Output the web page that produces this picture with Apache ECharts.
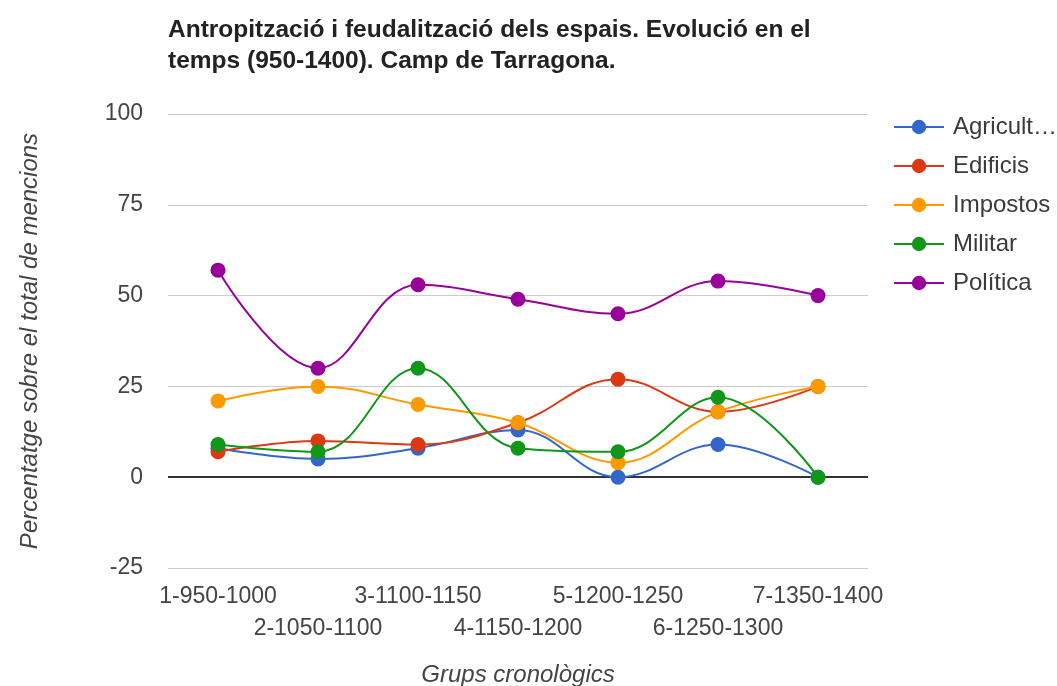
<!DOCTYPE html>
<html><head><meta charset="utf-8">
<script src="https://cdn.jsdelivr.net/npm/echarts@6/dist/echarts.min.js"></script>
<style>html,body{margin:0;padding:0;background:#fff}#c{width:1057px;height:686px}</style>
</head><body><div id="c"></div>
<script>
const categories = ['1-950-1000','2-1050-1100','3-1100-1150','4-1150-1200','5-1200-1250','6-1250-1300','7-1350-1400'];
const agricultura = [8, 5, 8, 13, 0, 9, 0];
const edificis = [7, 10, 9, 15, 27, 18, 25];
const impostos = [21, 25, 20, 15, 4, 18, 25];
const militar = [9, 7, 30, 8, 7, 22, 0];
const politica = [57, 30, 53, 49, 45, 54, 50];
const seriesNames = ['Agricultura','Edificis','Impostos','Militar','Política'];
const colors = ['#3366cc','#dc3912','#ff9900','#109618','#990099'];
const yTicks = {min: -25, max: 100, interval: 25};

const font = 'Liberation Sans, Arial, sans-serif';
const dataSets = [agricultura, edificis, impostos, militar, politica];
const series = dataSets.map((d, i) => ({
  name: seriesNames[i], type: 'line', data: d, smooth: 0.4,
  symbol: 'circle', symbolSize: 15,
  lineStyle: {width: 2, color: colors[i]},
  itemStyle: {color: colors[i]},
  emphasis: {disabled: true},
  markLine: i === 0 ? {silent: true, symbol: 'none', label: {show: false},
    lineStyle: {color: '#333', width: 2, type: 'solid'}, data: [{yAxis: 0}], z: 1} : undefined
}));

const chart = echarts.init(document.getElementById('c'), null, {renderer: 'canvas'});
chart.setOption({
  animation: false,
  color: colors,
  textStyle: {fontFamily: font},
  title: {
    text: 'Antropització i feudalització dels espais. Evolució en el\ntemps (950-1400). Camp de Tarragona.',
    left: 163, top: 10,
    textStyle: {fontFamily: font, fontSize: 24.5, fontWeight: 'bold', color: '#222', lineHeight: 31}
  },
  legend: {
    orient: 'vertical', left: 888, top: 110,
    itemWidth: 50, itemHeight: 18, itemGap: 15,
    textStyle: {fontFamily: font, fontSize: 24, color: '#3a3a3a', lineHeight: 24, width: 110,
      overflow: 'truncate', ellipsis: '…', padding: [0, 0, 0, 4]},
    data: seriesNames
  },
  grid: {left: 168, right: 189, top: 114, bottom: 118, outerBoundsMode: 'none'},
  xAxis: {
    type: 'category', data: categories, boundaryGap: true,
    axisLine: {show: false}, axisTick: {show: false},
    axisLabel: {interval: 0, fontFamily: font, fontSize: 23, color: '#444', lineHeight: 32, margin: 13,
      formatter: (v, idx) => idx % 2 ? '\n' + v : v},
    name: 'Grups cronològics', nameLocation: 'middle', nameGap: 95,
    nameTextStyle: {fontFamily: font, fontSize: 24, fontStyle: 'italic', color: '#444'}
  },
  yAxis: {
    type: 'value', min: yTicks.min, max: yTicks.max, interval: yTicks.interval,
    axisLine: {show: false}, axisTick: {show: false},
    axisLabel: {fontFamily: font, fontSize: 23, color: '#444', margin: 25},
    splitLine: {lineStyle: {color: '#cccccc', width: 1}},
    name: 'Percentatge sobre el total de mencions', nameLocation: 'middle', nameGap: 126,
    nameTextStyle: {fontFamily: font, fontSize: 24, fontStyle: 'italic', color: '#444'}
  },
  series: series
});
</script>
</body></html>
